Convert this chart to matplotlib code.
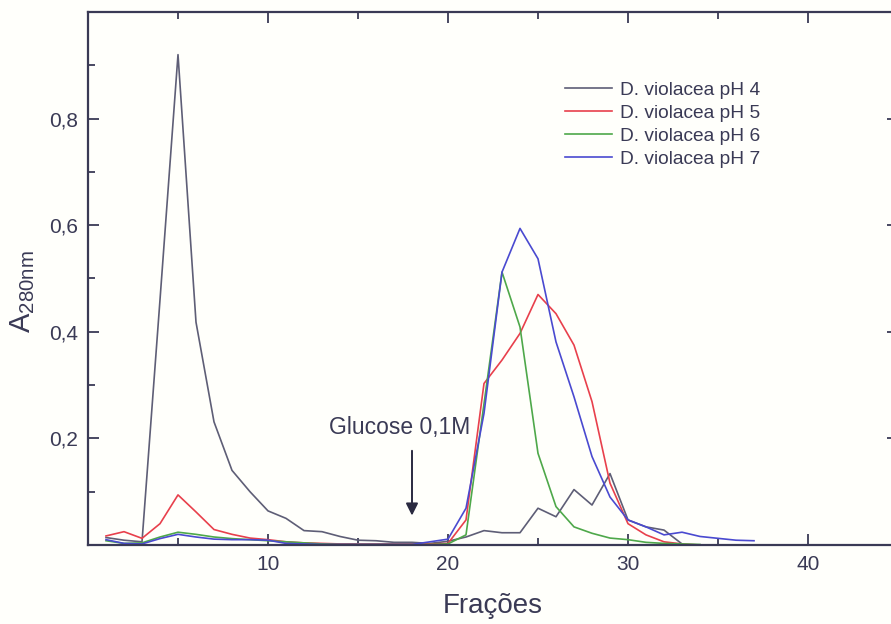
import numpy as np
import matplotlib
matplotlib.use("Agg")
import matplotlib.pyplot as plt
from matplotlib.ticker import MultipleLocator, FuncFormatter

plt.rcParams['font.family'] = ['Liberation Sans', 'DejaVu Sans']
plt.rcParams['mathtext.fontset'] = 'custom'
plt.rcParams['mathtext.rm'] = 'Liberation Sans'

# fractions (x) and A280 readings per pH
frac_ph4 = list(range(1, 34))
a_ph4 = [0.014, 0.009, 0.006, 0.46, 0.92, 0.418, 0.231, 0.14, 0.1, 0.064,
         0.05, 0.027, 0.025, 0.016, 0.009, 0.008, 0.005, 0.005, 0.003, 0.007,
         0.015, 0.027, 0.023, 0.023, 0.069, 0.053, 0.104, 0.075, 0.134, 0.047,
         0.034, 0.028, 0.002]

frac_ph5 = list(range(1, 35))
a_ph5 = [0.017, 0.025, 0.0125, 0.04, 0.094, 0.062, 0.029, 0.02, 0.013, 0.01,
         0.006, 0.004, 0.003, 0.002, 0.002, 0.002, 0.002, 0.002, 0.002, 0.003,
         0.047, 0.303, 0.347, 0.397, 0.47, 0.434, 0.375, 0.269, 0.116, 0.04,
         0.019, 0.006, 0.002, 0.0]

frac_ph6 = list(range(1, 35))
a_ph6 = [0.008, 0.003, 0.004, 0.015, 0.024, 0.02, 0.015, 0.012, 0.01, 0.008,
         0.006, 0.004, 0.002, 0.001, 0.001, 0.001, 0.001, 0.001, 0.001, 0.002,
         0.019, 0.265, 0.512, 0.409, 0.172, 0.072, 0.034, 0.022, 0.013, 0.01,
         0.005, 0.003, 0.002, 0.001]

frac_ph7 = list(range(1, 38))
a_ph7 = [0.01, 0.003, 0.002, 0.012, 0.02, 0.015, 0.011, 0.01, 0.01, 0.009,
         0.003, 0.002, 0.001, 0.001, 0.001, 0.001, 0.001, 0.001, 0.006, 0.011,
         0.069, 0.247, 0.512, 0.594, 0.537, 0.381, 0.278, 0.166, 0.09, 0.047,
         0.034, 0.019, 0.024, 0.016, 0.0125, 0.009, 0.008]

labels = ["D. violacea pH 4", "D. violacea pH 5",
          "D. violacea pH 6", "D. violacea pH 7"]
colors = ["#5e5e76", "#e8404c", "#4ea84a", "#4a4ad0"]

ink = "#3a3a55"

fig = plt.figure(figsize=(8.91, 6.24), dpi=100, facecolor="#fffffb")
ax = fig.add_axes([88 / 891, 79 / 624, 810 / 891, 533 / 624])
ax.set_facecolor("#fffffb")

series = [(frac_ph4, a_ph4), (frac_ph5, a_ph5), (frac_ph6, a_ph6), (frac_ph7, a_ph7)]
for (x, y), lab, c in zip(series, labels, colors):
    ax.plot(x, y, color=c, lw=1.2, label=lab)

ax.set_xlim(0, 45)
ax.set_ylim(0, 1.0)

ax.xaxis.set_major_locator(MultipleLocator(10))
ax.xaxis.set_minor_locator(MultipleLocator(5))
ax.yaxis.set_major_locator(MultipleLocator(0.2))
ax.yaxis.set_minor_locator(MultipleLocator(0.1))

def fmt_x(v, pos):
    return "" if v <= 0 or v >= 45 else "%d" % v

def fmt_y(v, pos):
    if v <= 0.01 or v >= 0.99:
        return ""
    return ("%.1f" % v).replace(".", ",")

ax.xaxis.set_major_formatter(FuncFormatter(fmt_x))
ax.yaxis.set_major_formatter(FuncFormatter(fmt_y))

ax.tick_params(which="both", direction="in", top=True, right=True,
               color=ink, labelcolor=ink, labelsize=15, width=1.3)
ax.tick_params(which="major", length=8, pad=7)
ax.tick_params(which="minor", length=5)

for s in ax.spines.values():
    s.set_color(ink)
    s.set_linewidth(1.6)

ax.set_xlabel("Frações", fontsize=20, color=ink, labelpad=14)
ax.set_ylabel(r"A$_{\mathrm{280nm}}$", fontsize=21, color=ink)
ax.yaxis.set_label_coords(-0.063, 0.475)

# glucose elution arrow
ax.annotate("", xy=(18, 0.05), xytext=(18, 0.182),
            arrowprops=dict(arrowstyle="-|>", color="#2a2a40", lw=1.4,
                            mutation_scale=18))
ax.text(17.3, 0.22, "Glucose 0,1M", fontsize=16.5, color=ink,
        ha="center", va="center")

leg = ax.legend(loc="upper left", bbox_to_anchor=(0.589, 0.87), frameon=False,
                fontsize=13.8, handlelength=2.45, handletextpad=0.42,
                labelspacing=0.3, borderpad=0, borderaxespad=0)
for t in leg.get_texts():
    t.set_color(ink)

fig.savefig("out.png", dpi=100, facecolor=fig.get_facecolor())
